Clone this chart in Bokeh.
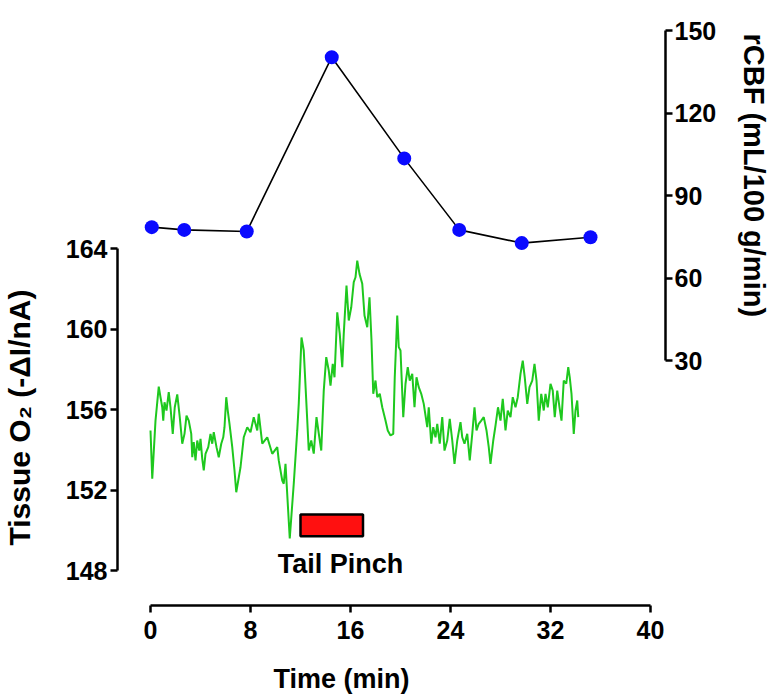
import math
from bokeh.plotting import figure
from bokeh.models import Range1d, LinearAxis, FixedTicker, Label, Title
from bokeh.embed import file_html
from bokeh.resources import INLINE

# ---- data ----
o2_time = [0.0,0.14,0.40,0.66,0.80,0.94,1.02,1.12,1.28,1.46,1.60,1.78,1.94,2.14,2.34,2.54,2.72,2.88,3.06,3.26,3.34,3.46,3.60,3.74,3.90,4.00,4.14,4.26,4.40,4.62,4.80,4.94,5.06,5.28,5.46,5.66,5.82,5.92,6.06,6.18,6.32,6.54,6.72,6.86,
           7.20,7.46,7.74,8.00,8.26,8.54,8.66,8.94,9.34,9.74,10.14,10.26,10.54,10.66,10.80,11.14,11.46,11.74,11.86,12.08,12.26,12.46,12.66,12.86,13.06,13.28,13.46,13.66,
           13.86,14.06,14.26,14.40,14.58,14.72,14.94,15.14,15.34,15.46,15.68,15.86,16.06,16.26,16.40,16.54,16.72,16.94,17.12,17.34,
           17.52,17.68,17.82,18.00,18.14,18.34,18.54,18.80,18.98,19.20,19.42,19.54,19.74,19.86,20.00,20.22,20.40,20.58,20.74,20.94,
           21.12,21.28,21.46,21.66,21.86,22.14,22.26,22.46,22.62,22.80,22.94,23.14,23.34,23.52,23.74,23.94,24.14,24.32,24.54,24.80,
           24.94,25.12,25.34,25.54,25.74,25.92,26.08,26.26,26.46,26.66,26.88,27.06,27.20,27.42,27.60,27.80,28.00,28.18,28.40,28.58,
           28.80,28.98,29.20,29.38,29.60,29.78,29.94,30.14,30.32,30.54,30.72,30.88,31.06,31.26,31.46,31.60,31.78,32.00,32.18,32.34,
           32.54,32.72,32.88,33.06,33.26,33.42,33.54,33.68,33.86,34.00,34.14,34.22]
o2_value = [154.96,152.56,155.45,157.14,156.61,156.11,155.45,156.36,155.95,156.86,156.11,154.79,156.11,156.75,155.62,154.30,154.79,155.70,155.45,154.79,153.63,154.38,153.47,154.46,153.96,154.54,153.55,152.97,153.80,154.13,154.79,154.30,154.87,154.13,153.63,154.30,154.62,155.12,156.61,155.95,155.29,154.13,152.97,151.89,
            153.13,154.62,155.12,154.87,155.62,154.96,155.79,154.30,154.62,153.80,154.13,153.47,152.47,152.31,153.30,149.59,152.31,154.96,156.28,159.58,158.93,156.45,153.96,154.46,153.81,155.62,154.81,153.96,
            156.94,158.60,157.94,157.19,158.27,157.60,160.83,159.76,158.10,159.76,162.16,160.42,161.08,162.33,162.57,163.40,162.74,162.25,160.67,160.09,
            161.58,159.43,156.78,157.44,156.61,156.78,156.11,155.45,154.96,154.71,154.79,157.60,160.67,159.10,158.93,155.62,157.28,158.10,157.44,157.77,
            156.11,157.60,157.11,156.78,156.28,155.12,156.11,154.30,155.12,154.62,155.29,154.30,155.62,153.96,154.46,155.54,154.46,153.30,154.46,155.37,
            154.62,154.30,154.79,153.47,154.79,156.11,154.96,155.29,155.45,155.62,154.96,154.13,153.30,154.46,155.20,156.11,155.45,156.53,154.96,155.95,
            155.62,156.61,156.11,156.61,157.77,158.43,157.60,156.28,157.11,157.44,158.27,157.44,155.45,156.78,155.95,156.78,156.11,157.28,156.94,155.62,
            156.94,156.11,155.45,157.44,157.28,158.10,157.60,156.78,154.79,155.95,156.45,155.62]

cbf_time = [0.1, 2.7, 7.7, 14.5, 20.3, 24.7, 29.7, 35.2]
cbf_value = [78.5, 77.5, 76.9, 140.3, 103.5, 77.5, 72.7, 74.8]

pinch_start = [12.0]
pinch_end = [17.0]
pinch_low = [149.7]
pinch_high = [150.78]

x_ticks = [0, 8, 16, 24, 32, 40]
o2_ticks = [148, 152, 156, 160, 164]
cbf_ticks = [30, 60, 90, 120, 150]

FONT = "Liberation Sans"

p = figure(frame_width=548, frame_height=580, output_backend="svg", toolbar_location=None,
           x_range=Range1d(-2.64, 41.2), y_range=Range1d(146.261, 175.081),
           min_border_left=117, min_border_right=104, min_border_top=25, min_border_bottom=93,
           background_fill_color="white", border_fill_color="white")
p.outline_line_color = None
p.grid.visible = False
p.extra_y_ranges = {"cbf": Range1d(-59.09, 151.82)}

def style_axis(ax, gap):
    ax.axis_line_width = 2.5
    ax.axis_line_color = "black"
    ax.major_tick_line_width = 2.5
    ax.major_tick_line_color = "black"
    ax.major_tick_out = 7
    ax.major_tick_in = 0
    ax.minor_tick_line_color = None
    ax.major_label_text_font = FONT
    ax.major_label_text_font_style = "bold"
    ax.major_label_text_font_size = "25px"
    ax.major_label_text_color = "black"
    # blank spacer label: keeps the title (drawn as a Title below) clear of tick labels
    ax.axis_label = "\u00a0"
    ax.axis_label_text_font_size = "1px"
    ax.axis_label_standoff = gap

xa = p.xaxis[0]
style_axis(xa, 18)
xa.ticker = FixedTicker(ticks=x_ticks)
xa.bounds = (0, 40)
xa.major_label_standoff = 8

ya = p.yaxis[0]
style_axis(ya, 23)
ya.ticker = FixedTicker(ticks=o2_ticks)
ya.bounds = (148, 164)
ya.major_label_standoff = 3

ra = LinearAxis(y_range_name="cbf")
style_axis(ra, 14)
ra.ticker = FixedTicker(ticks=cbf_ticks)
ra.bounds = (30, 150)
ra.major_label_standoff = 2
p.add_layout(ra, "right")

def side_title(text, side, size, offset, valign):
    t = Title(text=text, align="left", offset=offset, standoff=0, vertical_align=valign,
              text_font=FONT, text_font_style="bold", text_font_size=size, text_color="black")
    p.add_layout(t, side)

side_title("Tissue O\u2082 (-\u0394I/nA)", "left", "30px", 60, "bottom")
side_title("rCBF (mL/100 g/min)", "right", "29px", 8, "bottom")
side_title("Time (min)", "below", "27px", 156, "top")

# traces
p.line(o2_time, o2_value, line_color="#1ec81e", line_width=2)
p.line(cbf_time, cbf_value, y_range_name="cbf", line_color="black", line_width=1.6)
p.scatter(cbf_time, cbf_value, y_range_name="cbf", size=14, fill_color="#0a0aff", line_color=None)
p.quad(left=pinch_start, right=pinch_end, bottom=pinch_low, top=pinch_high,
       fill_color="#ff1010", line_color="black", line_width=2.5)

p.add_layout(Label(x=15.2, y=148.3, text="Tail Pinch", text_align="center", text_baseline="middle",
                   text_font=FONT, text_font_style="bold", text_font_size="27px", text_color="black"))

open("out.html", "w").write(file_html(p, INLINE))
